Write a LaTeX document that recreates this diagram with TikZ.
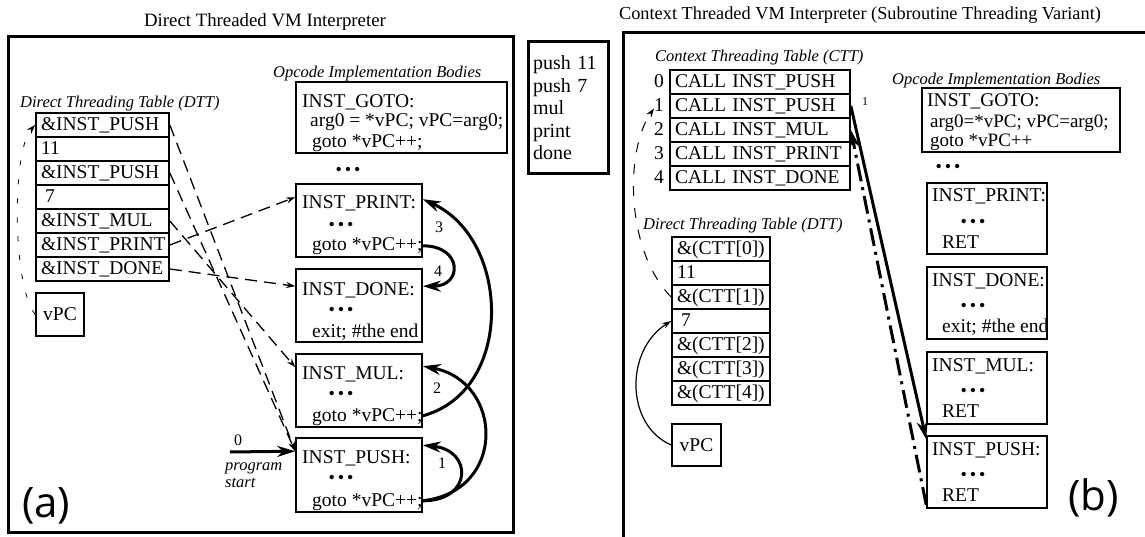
\documentclass[tikz,border=0pt]{standalone}
\usepackage{fontspec}
\setmainfont{Liberation Serif}
\newfontfamily\tagfont{Open Sans}
\usetikzlibrary{arrows.meta}

\newcommand{\opdots}{\textbullet\hspace{3pt}\textbullet\hspace{3pt}\textbullet}

\tikzset{
  frame/.style={draw,line width=3pt},
  prog/.style={draw,line width=3pt,minimum height=132pt,text width=70pt,inner xsep=5pt,
    align=left,font=\fontsize{20}{22.5}\selectfont},
  cell/.style={draw,fill=white,line width=1.7pt,minimum height=24pt,inner xsep=5pt,inner ysep=0pt,
    align=left,text height=14pt,text depth=3.5pt,font=\fontsize{19.5}{20}\selectfont},
  body/.style={draw,line width=1.6pt,inner sep=0pt,font=\fontsize{19.5}{20}\selectfont},
  txt/.style={anchor=base west,inner sep=0pt,font=\fontsize{19.5}{20}\selectfont},
  dots/.style={inner sep=0pt,font=\fontsize{18}{18}\selectfont},
  lbl/.style={anchor=base west,inner sep=0pt,font=\fontsize{16.5}{17}\selectfont\itshape},
  ttl/.style={anchor=base,inner sep=0pt,font=\fontsize{18.3}{19}\selectfont},
  num/.style={inner sep=0pt,font=\fontsize{16}{16}\selectfont},
  tag/.style={anchor=base west,inner sep=0pt,font=\tagfont\fontsize{42}{42}\selectfont},
  flow/.style={line width=3pt,-{Stealth[length=18pt,width=11pt]}},
  ptr/.style={line width=1.3pt,dash pattern=on 12pt off 7pt,-{Stealth[length=9pt,width=6pt]}},
}

\begin{document}
\begin{tikzpicture}[x=1pt,y=-1pt,>={Stealth[length=9pt,width=6pt]}]
  \useasboundingbox (0,0) rectangle (1145,537);

  % titles and frames
  \node[ttl,font=\fontsize{18.8}{19}\selectfont] (ltitle) at (265,27) {Direct Threaded VM Interpreter};
  \node[ttl] (rtitle) at (860,20) {Context Threaded VM Interpreter (Subroutine Threading Variant)};
  \draw[frame] (8,37) rectangle (513,532);
  \draw[frame] (1145,33) -- (623,33) -- (623,537);
  \node[prog] (prog) at (568,108) {push 11\\push 7\\mul\\print\\done};

  % direct threading table (a)
  \node[lbl] (ldttl) at (20,108) {Direct Threading Table (DTT)};
  \node[cell,text width=123pt] (d0) at (102.5,125) {\&INST\_PUSH};
  \node[cell,text width=123pt] (d1) at (102.5,149) {11};
  \node[cell,text width=123pt] (d2) at (102.5,173) {\&INST\_PUSH};
  \node[cell,text width=123pt] (d3) at (102.5,197) {\hspace{4pt}7};
  \node[cell,text width=123pt] (d4) at (102.5,221) {\&INST\_MUL};
  \node[cell,text width=123pt] (d5) at (102.5,245) {\&INST\_PRINT};
  \node[cell,text width=123pt] (d6) at (102.5,269) {\&INST\_DONE};
  \node[body,minimum width=48pt,minimum height=43pt] (lvpc) at (60,314.5) {vPC};

  % opcode bodies (a)
  \node[lbl] (lopc) at (273,78) {Opcode Implementation Bodies};
  \node[body,minimum width=211pt,minimum height=71pt] (lgoto) at (401.5,117.5) {};
  \node[txt] (lgoto1) at (302,108) {INST\_GOTO:};
  \node[txt] (lgoto2) at (310,127) {arg0 = *vPC; vPC=arg0;};
  \node[txt] (lgoto3) at (312,148) {goto *vPC++;};
  \node[dots] (ldots) at (348,171) {\opdots};

  \node[body,minimum width=126pt,minimum height=73pt] (lprint) at (359,220.5) {};
  \node[txt] (lprint1) at (302,209) {INST\_PRINT:};
  \node[dots] (lprint2) at (341,226) {\opdots};
  \node[txt] (lprint3) at (312,251) {goto *vPC++;};

  \node[body,minimum width=126pt,minimum height=73pt] (ldone) at (359,305.5) {};
  \node[txt] (ldone1) at (302,295) {INST\_DONE:};
  \node[dots] (ldone2) at (341,311) {\opdots};
  \node[txt] (ldone3) at (312,337) {exit; \#the end};

  \node[body,minimum width=126pt,minimum height=73pt] (lmul) at (359,390.5) {};
  \node[txt] (lmul1) at (302,379) {INST\_MUL:};
  \node[dots] (lmul2) at (341,395) {\opdots};
  \node[txt] (lmul3) at (312,421) {goto *vPC++;};

  \node[body,minimum width=126pt,minimum height=74pt] (lpush) at (359,475) {};
  \node[txt] (lpush1) at (302,463) {INST\_PUSH:};
  \node[dots] (lpush2) at (341,479) {\opdots};
  \node[txt] (lpush3) at (312,506) {goto *vPC++;};

  % dispatch pointers (a)
  \draw[ptr,line width=0.8pt,dash pattern=on 5pt off 14pt] (lvpc.west) .. controls (12,285) and (12,150) .. (d0.west);
  \draw[ptr] (d0.east) -- ([yshift=-14pt]lpush.north west);
  \draw[ptr] (d2.east) -- ([yshift=-14pt]lpush.north west);
  \draw[ptr] (d4.east) -- ([yshift=-14pt]lmul.north west);
  \draw[ptr] (d5.east) -- ([yshift=-14pt]lprint.north west);
  \draw[ptr] (d6.east) -- ([yshift=-18pt]ldone.north west);

  % control flow (a)
  \coordinate (pstart) at (230,452);
  \draw[flow] (pstart) -- ([yshift=-14pt]lpush.north west);
  \node[num] (zero) at (238,440) {0};
  \node[lbl] (pstart1) at (225,470) {program};
  \node[lbl] (pstart2) at (225,487) {start};
  \draw[flow] ([yshift=12pt]lpush.south east) .. controls +(50,0) and +(50,5) .. ([yshift=-8pt]lpush.north east);
  \draw[flow] ([yshift=12pt]lpush.south east) .. controls +(85,-10) and +(80,15) .. ([yshift=-13pt]lmul.north east);
  \draw[flow] ([yshift=12pt]lmul.south east) .. controls +(92,-25) and +(88,40) .. ([yshift=-16pt]lprint.north east);
  \draw[flow] ([yshift=12pt]lprint.south east) .. controls +(40,0) and +(40,0) .. ([yshift=-18pt]ldone.north east);
  \node[num] (one) at (442,463) {1};
  \node[num] (two) at (437,388) {2};
  \node[num] (three) at (439,227) {3};
  \node[num] (four) at (438,271) {4};
  \node[tag] (taga) at (22,517) {(a)};

  % context threading table (b)
  \node[lbl] (rcttl) at (655,62) {Context Threading Table (CTT)};
  \node[cell,text width=170pt] (c0) at (760,82) {CALL INST\_PUSH};
  \node[cell,text width=170pt] (c1) at (760,106) {CALL INST\_PUSH};
  \node[cell,text width=170pt] (c2) at (760,130) {CALL INST\_MUL};
  \node[cell,text width=170pt] (c3) at (760,154) {CALL INST\_PRINT};
  \node[cell,text width=170pt] (c4) at (760,178) {CALL INST\_DONE};
  \node[txt,anchor=base east] (i0) at ([xshift=-5pt]c0.base west) {0};
  \node[txt,anchor=base east] (i1) at ([xshift=-5pt]c1.base west) {1};
  \node[txt,anchor=base east] (i2) at ([xshift=-5pt]c2.base west) {2};
  \node[txt,anchor=base east] (i3) at ([xshift=-5pt]c3.base west) {3};
  \node[txt,anchor=base east] (i4) at ([xshift=-5pt]c4.base west) {4};

  % direct threading table (b)
  \node[lbl] (rdttl) at (643,230) {Direct Threading Table (DTT)};
  \node[cell,text width=88pt] (r0) at (721,249) {\&(CTT[0])};
  \node[cell,text width=88pt] (r1) at (721,273) {11};
  \node[cell,text width=88pt] (r2) at (721,297) {\&(CTT[1])};
  \node[cell,text width=88pt] (r3) at (721,321) {\hspace{4pt}7};
  \node[cell,text width=88pt] (r4) at (721,345) {\&(CTT[2])};
  \node[cell,text width=88pt] (r5) at (721,369) {\&(CTT[3])};
  \node[cell,text width=88pt] (r6) at (721,393) {\&(CTT[4])};
  \node[body,minimum width=49pt,minimum height=42pt] (rvpc) at (696.5,445) {vPC};

  % opcode bodies (b)
  \node[lbl] (ropc) at (892,85) {Opcode Implementation Bodies};
  \node[body,minimum width=198pt,minimum height=64pt] (rgoto) at (1021,120) {};
  \node[txt] (rgoto1) at (927,107) {INST\_GOTO:};
  \node[txt,font=\fontsize{19}{19}\selectfont] (rgoto2) at (930,128) {arg0=*vPC; vPC=arg0;};
  \node[txt,font=\fontsize{19}{19}\selectfont] (rgoto3) at (930,146.5) {goto *vPC++};
  \node[dots] (rdots) at (948,168) {\opdots};

  \node[body,minimum width=120pt,minimum height=71pt] (rprint) at (987,218.5) {};
  \node[txt] (rprint1) at (932,202) {INST\_PRINT:};
  \node[dots] (rprint2) at (973,223) {\opdots};
  \node[txt] (rprint3) at (942,248) {RET};

  \node[body,minimum width=120pt,minimum height=72pt] (rdone) at (987,303) {};
  \node[txt] (rdone1) at (932,286) {INST\_DONE:};
  \node[dots] (rdone2) at (973,307) {\opdots};
  \node[txt] (rdone3) at (942,332) {exit; \#the end};

  \node[body,minimum width=120pt,minimum height=72pt] (rmul) at (987,388) {};
  \node[txt] (rmul1) at (932,371) {INST\_MUL:};
  \node[dots] (rmul2) at (973,392) {\opdots};
  \node[txt] (rmul3) at (942,417) {RET};

  \node[body,minimum width=120pt,minimum height=72pt] (rpush) at (987,472) {};
  \node[txt] (rpush1) at (932,455) {INST\_PUSH:};
  \node[dots] (rpush2) at (973,476) {\opdots};
  \node[txt] (rpush3) at (942,501) {RET};

  % pointers and calls (b)
  \draw[->,line width=1.2pt] (rvpc.west) .. controls (625,425) and (625,350) .. (r3.west);
  \draw[ptr,line width=1pt,dash pattern=on 10pt off 12pt] (r2.west) .. controls (625,250) and (625,150) .. ([yshift=3pt]i1.south west);
  \draw[flow] (c1.east) -- ([yshift=-4pt]rpush.north west);
  \draw[flow,dash pattern=on 18pt off 6pt on 3pt off 6pt] ([yshift=4pt]rpush.south west) -- (c2.east);
  \node[num,font=\fontsize{12}{12}\selectfont] (callone) at (865,102) {1};
  \node[tag] (tagb) at (1068,510) {(b)};
\end{tikzpicture}
\end{document}
